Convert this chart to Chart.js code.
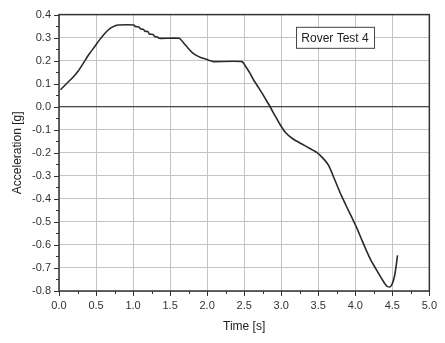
<!DOCTYPE html>
<html>
<head>
<meta charset="utf-8">
<script src="https://cdn.jsdelivr.net/npm/chart.js@4/dist/chart.umd.min.js"></script>
<style>
  body { margin: 0; background: #fff; }
  #wrap { width: 445px; height: 343px; }
</style>
</head>
<body>
<div id="wrap"><canvas id="chart" width="445" height="343"></canvas></div>
<script>
// data
const timeS = [0.02, 0.10, 0.18, 0.26, 0.34, 0.41, 0.48, 0.54, 0.63, 0.70, 0.76, 0.80, 1.01, 1.03, 1.08, 1.10, 1.14, 1.16, 1.20, 1.22, 1.27, 1.29, 1.33, 1.35, 1.62, 1.68, 1.74, 1.80, 1.86, 1.92, 1.98, 2.04, 2.08, 2.47, 2.52, 2.58, 2.63, 2.69, 2.75, 2.80, 2.85, 2.91, 2.98, 3.06, 3.16, 3.28, 3.38, 3.48, 3.56, 3.64, 3.72, 3.81, 3.88, 3.95, 4.02, 4.08, 4.15, 4.21, 4.28, 4.34, 4.39, 4.43, 4.47, 4.50, 4.53, 4.55, 4.57];
const accelG = [0.074, 0.10, 0.125, 0.155, 0.195, 0.23, 0.26, 0.287, 0.322, 0.342, 0.352, 0.355, 0.355, 0.348, 0.346, 0.338, 0.336, 0.328, 0.326, 0.316, 0.314, 0.305, 0.303, 0.297, 0.297, 0.278, 0.255, 0.235, 0.222, 0.213, 0.207, 0.200, 0.196, 0.196, 0.175, 0.145, 0.115, 0.085, 0.055, 0.027, 0.0, -0.035, -0.075, -0.113, -0.140, -0.162, -0.180, -0.198, -0.222, -0.255, -0.315, -0.384, -0.432, -0.478, -0.526, -0.572, -0.625, -0.666, -0.705, -0.738, -0.764, -0.780, -0.782, -0.768, -0.735, -0.695, -0.645];
const xTicks = [0, 0.5, 1, 1.5, 2, 2.5, 3, 3.5, 4, 4.5, 5];
const yTicks = [-0.8, -0.7, -0.6, -0.5, -0.4, -0.3, -0.2, -0.1, 0, 0.1, 0.2, 0.3, 0.4];
const seriesName = 'Rover Test 4';

const points = timeS.map((t, i) => ({x: t, y: accelG[i]}));

// frame, minor ticks, zero line and the boxed label
const decor = {
  id: 'decor',
  afterDatasetsDraw(chart) {
    const {ctx, chartArea: a, scales: {x, y}} = chart;
    ctx.save();
    // zero line
    ctx.strokeStyle = '#222';
    ctx.lineWidth = 1.2;
    ctx.beginPath();
    ctx.moveTo(a.left, y.getPixelForValue(0));
    ctx.lineTo(a.right, y.getPixelForValue(0));
    ctx.stroke();
    // ticks
    ctx.strokeStyle = '#333';
    ctx.lineWidth = 1;
    ctx.beginPath();
    for (let v = 0; v <= 5.001; v += 0.25) {
      const px = Math.round(x.getPixelForValue(v)) + 0.5;
      const len = Math.abs(v * 2 - Math.round(v * 2)) < 0.01 ? 5 : 3;
      ctx.moveTo(px, a.bottom);
      ctx.lineTo(px, a.bottom + len);
    }
    for (let v = -0.8; v <= 0.401; v += 0.05) {
      const py = Math.round(y.getPixelForValue(v)) + 0.5;
      const len = Math.abs(v * 10 - Math.round(v * 10)) < 0.01 ? 5 : 3;
      ctx.moveTo(a.left, py);
      ctx.lineTo(a.left - len, py);
    }
    ctx.stroke();
    // frame
    ctx.strokeStyle = '#333';
    ctx.lineWidth = 1.5;
    ctx.strokeRect(a.left, a.top, a.right - a.left, a.bottom - a.top);
    // label box
    const bx = x.getPixelForValue(3.2), by = y.getPixelForValue(0.347);
    ctx.fillStyle = '#fff';
    ctx.fillRect(bx, by, 78, 21);
    ctx.lineWidth = 1;
    ctx.strokeStyle = '#444';
    ctx.strokeRect(bx + 0.5, by + 0.5, 78, 21);
    ctx.fillStyle = '#222';
    ctx.font = '12px "Liberation Sans", Arial, sans-serif';
    ctx.textBaseline = 'middle';
    ctx.textAlign = 'center';
    ctx.fillText(seriesName, bx + 39, by + 11.5);
    ctx.restore();
  }
};

new Chart(document.getElementById('chart'), {
  type: 'line',
  data: {
    datasets: [{
      label: seriesName,
      data: points,
      borderColor: '#2a2a2a',
      borderWidth: 1.6,
      pointRadius: 0,
      tension: 0.2,
      fill: false
    }]
  },
  options: {
    responsive: false,
    animation: false,
    layout: {padding: {top: 14, right: 9, left: 0, bottom: 0}},
    plugins: {legend: {display: false}, tooltip: {enabled: false}},
    scales: {
      x: {
        type: 'linear',
        min: 0,
        max: 5,
        afterBuildTicks: s => { s.ticks = xTicks.map(v => ({value: v})); },
        afterFit: s => { s.height = 52; },
        grid: {color: '#c4c4c4', lineWidth: 1, drawTicks: false},
        border: {display: false},
        ticks: {
          padding: 8,
          color: '#333',
          font: {family: '"Liberation Sans", Arial, sans-serif', size: 11},
          callback: v => v.toFixed(1),
          maxRotation: 0
        },
        title: {
          display: true,
          text: 'Time [s]',
          color: '#222',
          padding: {top: 0, bottom: 9},
          font: {family: '"Liberation Sans", Arial, sans-serif', size: 12}
        }
      },
      y: {
        min: -0.8,
        max: 0.4,
        afterBuildTicks: s => { s.ticks = yTicks.map(v => ({value: v})); },
        afterFit: s => { s.width = 59; },
        grid: {color: '#c4c4c4', lineWidth: 1, drawTicks: false},
        border: {display: false},
        ticks: {
          padding: 8,
          color: '#333',
          font: {family: '"Liberation Sans", Arial, sans-serif', size: 11},
          callback: v => v.toFixed(1)
        },
        title: {
          display: true,
          text: 'Acceleration [g]',
          color: '#222',
          padding: {top: 10, bottom: 0},
          font: {family: '"Liberation Sans", Arial, sans-serif', size: 12}
        }
      }
    }
  },
  plugins: [decor]
});
</script>
</body>
</html>
